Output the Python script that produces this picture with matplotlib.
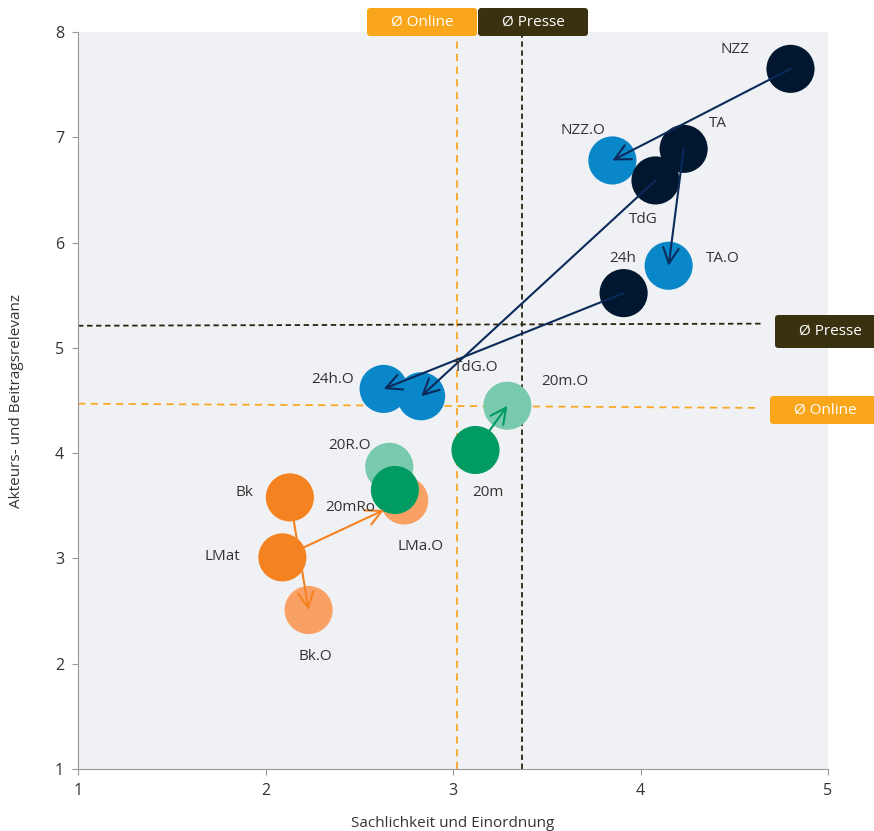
import matplotlib
matplotlib.use("Agg")
import matplotlib.pyplot as plt
from matplotlib.patches import FancyBboxPatch

plt.rcParams['font.family'] = ['Open Sans', 'DejaVu Sans']

# data: Sachlichkeit (x) / Relevanz (y) per medium
names = ["NZZ", "TA", "TdG", "24h", "20m", "20mRo", "Bk", "LMat",
         "NZZ.O", "TA.O", "TdG.O", "24h.O", "20m.O", "20R.O", "Bk.O", "LMa.O"]
x_vals = [4.80, 4.23, 4.08, 3.91, 3.12, 2.69, 2.13, 2.09,
          3.85, 4.15, 2.83, 2.63, 3.29, 2.66, 2.23, 2.74]
y_vals = [7.65, 6.89, 6.59, 5.52, 4.03, 3.65, 3.58, 3.01,
          6.78, 5.78, 4.54, 4.61, 4.45, 3.87, 2.51, 3.55]

# press -> online pairs
arrows = [("NZZ", "NZZ.O"), ("TA", "TA.O"), ("TdG", "TdG.O"), ("24h", "24h.O"),
          ("20m", "20m.O"), ("20mRo", "20R.O"), ("Bk", "Bk.O"), ("LMat", "LMa.O")]

# averages
online_x = 3.02
presse_x = 3.37
online_y = [4.47, 4.43]
presse_y = [5.21, 5.23]

navy = "#00172f"
blue = "#0a87c8"
orange = "#f58220"
orange_l = "#f9a164"
green = "#009b62"
green_l = "#78c9ad"
col = {"NZZ": navy, "TA": navy, "TdG": navy, "24h": navy,
       "NZZ.O": blue, "TA.O": blue, "TdG.O": blue, "24h.O": blue,
       "20m": green, "20mRo": green, "20m.O": green_l, "20R.O": green_l,
       "Bk": orange, "LMat": orange, "Bk.O": orange_l, "LMa.O": orange_l}
arrow_col = {"NZZ": "#0b2a5a", "TA": "#0b2a5a", "TdG": "#0b2a5a", "24h": "#0b2a5a",
             "20m": green, "20mRo": green, "Bk": orange, "LMat": orange}
shrink_a = {"20m": 17, "20mRo": 14, "Bk": 17, "LMat": 17}
shrink_b = {"LMa.O": 16}
# label offsets in pixels
offs = {"NZZ": (-55, 19), "TA": (34, 25), "TdG": (-12, -39), "24h": (-1, 35),
        "20m": (12, -43), "20mRo": (-45, -18), "Bk": (-45, 5), "LMat": (-60, 1),
        "NZZ.O": (-30, 30), "TA.O": (54, 7), "TdG.O": (55, 29), "24h.O": (-51, 9),
        "20m.O": (57, 24), "20R.O": (-40, 21), "Bk.O": (7, -46), "LMa.O": (16, -46)}

pos = {n: (x, y) for n, x, y in zip(names, x_vals, y_vals)}

fig = plt.figure(figsize=(8.74, 8.31), dpi=100)
ax = fig.add_axes([78/874, 62/831, 750/874, 737/831])
ax.set_facecolor("#f0f1f4")
ax.set_xlim(1, 5)
ax.set_ylim(1, 8)

# average lines
ax.plot([online_x, online_x], [1, 8], ls=(0, (4, 3)), color="#f9a825", lw=1.3, zorder=1)
ax.plot([presse_x, presse_x], [1, 8], ls=(0, (3, 2)), color="#2b2510", lw=1.3, zorder=1)
ax.plot([1, 4.65], presse_y, ls=(0, (3, 2)), color="#2b2510", lw=1.3, zorder=1)
ax.plot([1, 4.62], online_y, ls=(0, (4, 3)), color="#f9a825", lw=1.3, zorder=1)

# online circles first, press circles on top
order = ["NZZ.O", "TA.O", "TdG.O", "24h.O", "20m.O", "20R.O", "Bk.O", "LMa.O",
         "NZZ", "TA", "TdG", "24h", "20m", "20mRo", "Bk", "LMat"]
for i, n in enumerate(order):
    ax.scatter(*pos[n], s=1200, color=col[n], edgecolors="none", zorder=3 + i * 0.01)

for a, b in arrows:
    ax.annotate("", xy=pos[b], xytext=pos[a],
                arrowprops=dict(arrowstyle="->", color=arrow_col[a], lw=1.5,
                                mutation_scale=28,
                                shrinkA=shrink_a.get(a, 0), shrinkB=shrink_b.get(b, 0)),
                zorder=4)

for n in names:
    ax.annotate(n, pos[n], xytext=offs[n], textcoords="offset pixels",
                ha="center", va="center", fontsize=11, color="#333333", zorder=5)

for s in ["top", "right"]:
    ax.spines[s].set_visible(False)
for s in ["left", "bottom"]:
    ax.spines[s].set_color("#999999")
ax.set_xticks([1, 2, 3, 4, 5])
ax.set_yticks([1, 2, 3, 4, 5, 6, 7, 8])
ax.tick_params(colors="#999999", labelcolor="#333333", labelsize=11.5, length=4, pad=6)
ax.set_xlabel("Sachlichkeit und Einordnung", fontsize=11, color="#333333", labelpad=12)
ax.set_ylabel("Akteurs- und Beitragsrelevanz", fontsize=11, color="#333333", labelpad=22)

# legend boxes (figure pixels)
def tag(x0, y0, w, h, text, fc):
    y0 = 831 - y0 - h
    p = FancyBboxPatch((x0 / 874, y0 / 831), w / 874, h / 831,
                       boxstyle="round,pad=0,rounding_size=0.004",
                       transform=fig.transFigure, fc=fc, ec="none", zorder=10)
    fig.patches.append(p)
    fig.text((x0 + w / 2) / 874, (y0 + h / 2) / 831, text, ha="center", va="center",
             color="white", fontsize=11, zorder=11)

tag(367, 8, 110, 28, "Ø Online", "#faa61a")
tag(478, 8, 110, 28, "Ø Presse", "#3a3110")
tag(775, 315, 110, 33, "Ø Presse", "#3a3110")
tag(770, 396, 110, 28, "Ø Online", "#faa61a")

fig.savefig("out.png", dpi=100)
